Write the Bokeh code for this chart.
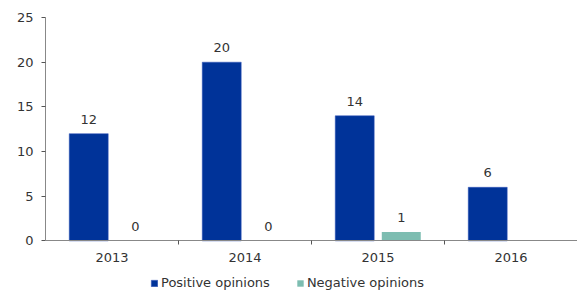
from bokeh.plotting import figure
from bokeh.models import ColumnDataSource, FixedTicker, Range1d, LabelSet, Legend, LegendItem
from bokeh.core.properties import value
from bokeh.embed import file_html
from bokeh.resources import INLINE

years = ["2013", "2014", "2015", "2016"]
positive = [12, 20, 14, 6]
negative = [0, 0, 1, None]
y_ticks = [0, 5, 10, 15, 20, 25]

POS_COLOR = "#003399"
NEG_COLOR = "#7dbdb1"
FONT = "DejaVu Sans"
TXT = "#333333"
FS = "13px"

idx = list(range(len(years)))
off = 0.175
bw = 0.293

pos_src = ColumnDataSource(dict(x=[i + 0.5 - off for i in idx], top=positive,
                                lbl=[str(v) for v in positive]))
nx, nt, nl = [], [], []
for i, v in zip(idx, negative):
    if v is not None:
        nx.append(i + 0.5 + off); nt.append(v); nl.append(str(v))
neg_src = ColumnDataSource(dict(x=nx, top=nt, lbl=nl))

p = figure(frame_width=532, frame_height=273, output_backend="svg", toolbar_location=None,
           x_range=Range1d(0, len(years)), y_range=Range1d(-5.55, 25),
           min_border_left=45, min_border_right=0, min_border_top=17, min_border_bottom=2)

r1 = p.vbar(x="x", top="top", width=bw, source=pos_src, fill_color=POS_COLOR,
            line_color="#3355bb", line_width=0.5)
r2 = p.vbar(x="x", top="top", width=bw, source=neg_src, fill_color=NEG_COLOR,
            line_color=None)

for src in (pos_src, neg_src):
    p.add_layout(LabelSet(x="x", y="top", text="lbl", source=src, y_offset=10,
                          text_align="center", text_baseline="bottom",
                          text_font=value(FONT), text_font_size=value(FS),
                          text_color=value(TXT)))

p.xgrid.visible = False
p.ygrid.visible = False
p.outline_line_color = None

xa = p.xaxis[0]
xa.fixed_location = 0
xa.ticker = FixedTicker(ticks=[i + 0.5 for i in idx], minor_ticks=[1, 2, 3])
xa.major_label_overrides = {i + 0.5: y for i, y in zip(idx, years)}
xa.major_tick_out = 0
xa.major_tick_in = 0
xa.minor_tick_out = 4
xa.minor_tick_in = 0
xa.minor_tick_line_color = "#555555"
xa.axis_line_color = "#888888"
xa.major_label_text_font = FONT
xa.major_label_text_font_size = FS
xa.major_label_text_color = TXT
xa.major_label_standoff = 8

ya = p.yaxis[0]
ya.ticker = FixedTicker(ticks=y_ticks)
ya.bounds = (0, 25)
ya.minor_tick_line_color = None
ya.major_tick_out = 4
ya.major_tick_in = 0
ya.major_tick_line_color = "#555555"
ya.axis_line_color = "#888888"
ya.major_label_text_font = FONT
ya.major_label_text_font_size = FS
ya.major_label_text_color = TXT
ya.major_label_standoff = 8

legend = Legend(items=[LegendItem(label="Positive opinions", renderers=[r1]),
                       LegendItem(label="Negative opinions", renderers=[r2])],
                orientation="horizontal", location=(105, 0),
                border_line_color=None, background_fill_alpha=0,
                glyph_width=8, glyph_height=8, label_standoff=3, spacing=26,
                padding=0, margin=0, label_height=14,
                label_text_font=FONT, label_text_font_size=FS, label_text_color=TXT)
p.add_layout(legend)

open("out.html", "w").write(file_html(p, INLINE))
